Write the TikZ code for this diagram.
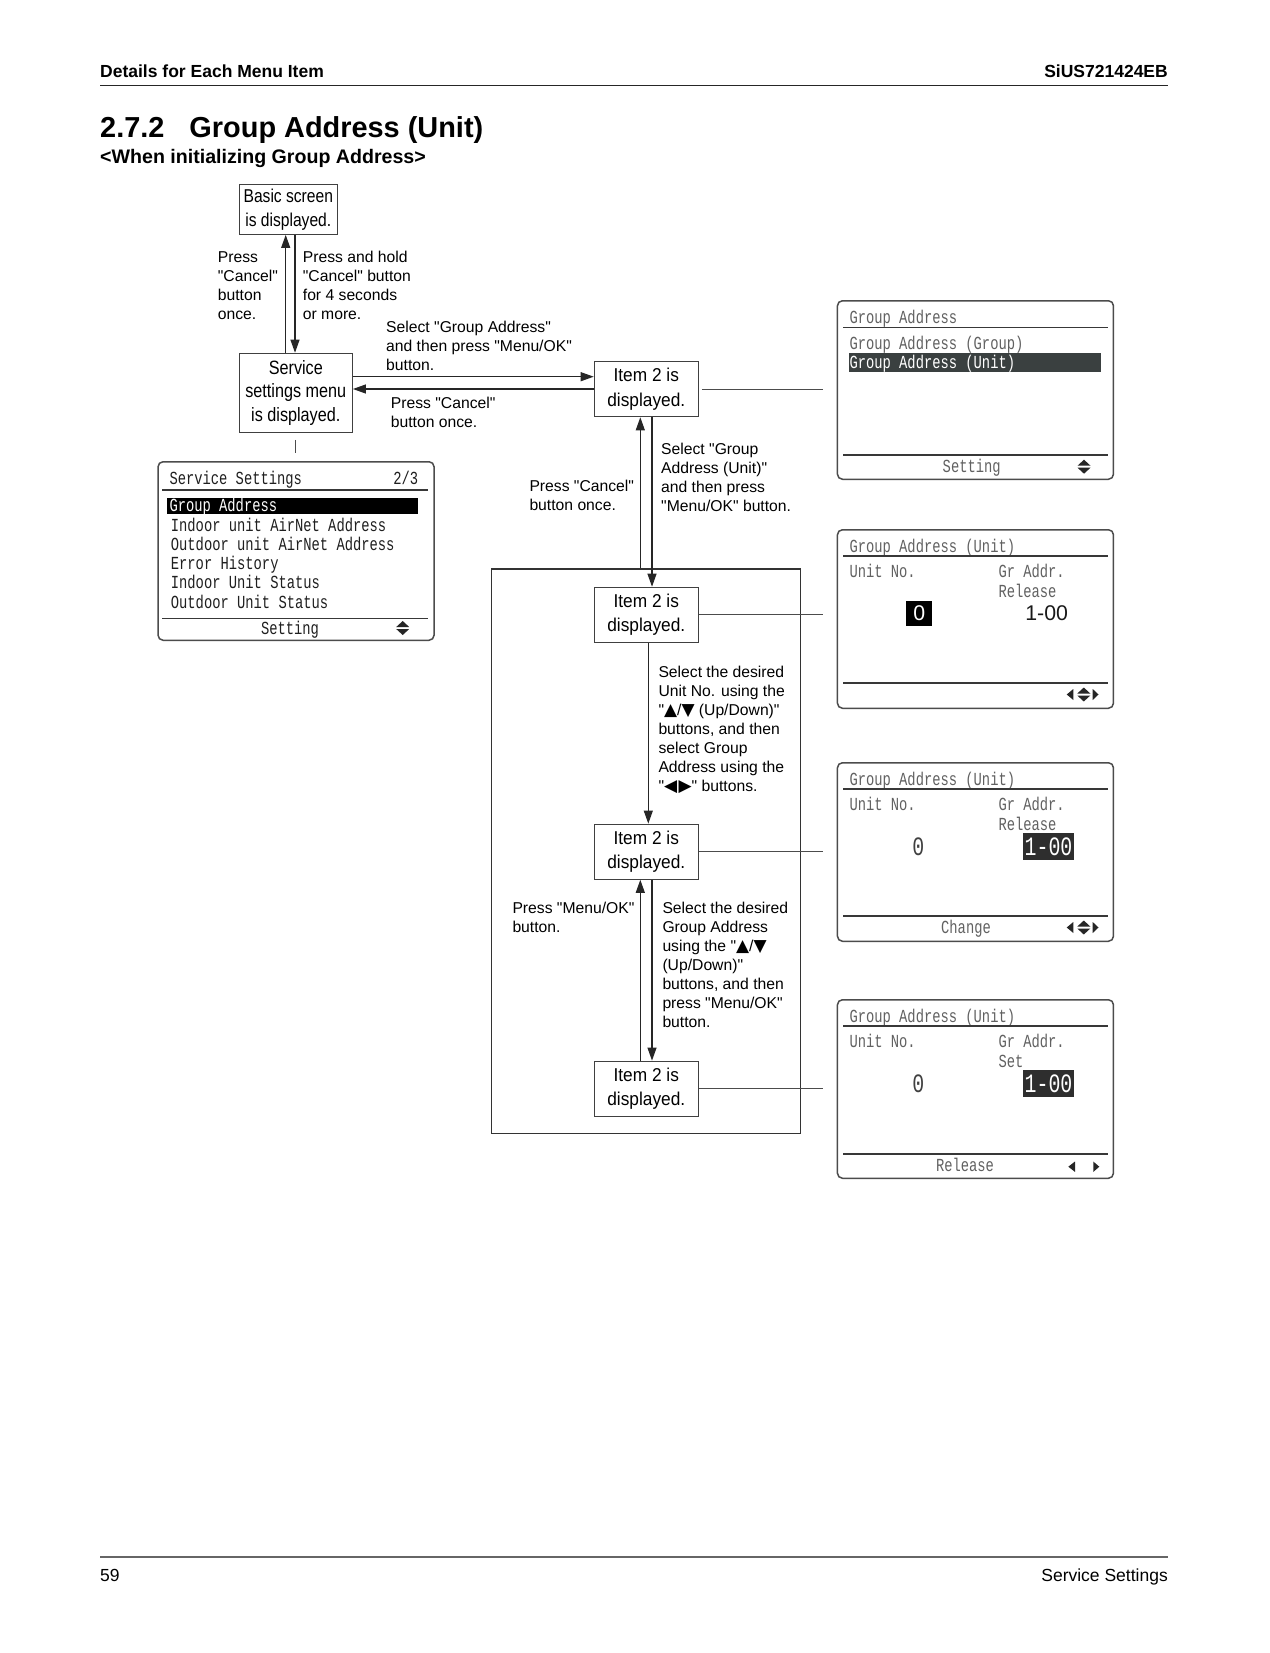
\documentclass[tikz,border=0pt]{standalone}
\usepackage{fontspec}
\setmainfont{Liberation Sans}[Ligatures=TeXOff]
\newfontfamily\condA[FakeStretch=0.84,Ligatures=TeXOff]{Liberation Sans}
\newfontfamily\condB[FakeStretch=0.93,Ligatures=TeXOff]{Liberation Sans}
\newfontfamily\lcd[FakeStretch=0.75,Ligatures=TeXOff]{Liberation Mono}
\newfontfamily\symf{DejaVu Sans}
\usetikzlibrary{arrows.meta}
\definecolor{hl}{RGB}{58,64,64}
\newcommand\tsym[1]{{\symf\fontsize{17}{12}\selectfont #1}}
\tikzset{
  box/.style={draw=black!75, line width=1.2pt, fill=white, inner sep=0pt, align=center},
  basicf/.style={font=\condA\fontsize{18.6}{24}\selectfont},
  servf/.style={font=\condA\fontsize{19.3}{23.7}\selectfont},
  itemf/.style={font=\condB\fontsize{18.6}{24.3}\selectfont, minimum width=104pt, minimum height=55pt},
  flow/.style={line width=1.1pt, draw=black!85},
  tip/.style={-{Triangle[length=13pt,width=9pt]}},
  link/.style={line width=1pt, draw=black!70},
  note/.style={anchor=base west, inner sep=0pt, align=left, font=\fontsize{15.7}{19}\selectfont},
  screen/.style={draw=black!70, line width=1.5pt, rounded corners=5pt, inner sep=0pt, anchor=north west, minimum width=276pt, minimum height=178.5pt},
  lcdt/.style={inner sep=0pt, text=black!62, font=\lcd\fontsize{18.4}{19}\selectfont},
  lcdk/.style={inner sep=0pt, text=black!88, font=\lcd\fontsize{18.4}{19}\selectfont},
  lcdbig/.style={inner sep=0pt, font=\lcd\fontsize{26.5}{27}\selectfont},
  lcdline/.style={line width=1.6pt, draw=black!78},
  icon/.style={fill=black!85, draw=none},
}
\begin{document}
\begin{tikzpicture}[x=1pt,y=-1pt]
\useasboundingbox (0,0) rectangle (1269,1653);
\fill[white] (0,0) rectangle (1269,1653);

% ---------- page header / title ----------
\node[anchor=base west, inner sep=0pt, font=\bfseries\fontsize{17.5}{20}\selectfont] (hdl) at (100,77.7) {Details for Each Menu Item};
\node[anchor=base east, inner sep=0pt, font=\bfseries\fontsize{17.5}{20}\selectfont] (hdr) at (1168,77.7) {SiUS721424EB};
\draw[line width=1.3pt, black!85] (100,85.5) -- (1168,85.5);
\node[anchor=base west, inner sep=0pt, font=\bfseries\fontsize{28.9}{32}\selectfont] (title) at (100,137.3) {2.7.2\hspace*{25pt}Group Address (Unit)};
\node[anchor=base west, inner sep=0pt, font=\bfseries\fontsize{19.6}{22}\selectfont] (subtitle) at (100,163.3) {<When initializing Group Address>};

% ---------- footer ----------
\draw[line width=1.8pt, black!60] (100,1557) -- (1168,1557);
\node[anchor=base west, inner sep=0pt, font=\fontsize{17.5}{20}\selectfont] (pg) at (100,1581) {59};
\node[anchor=base east, inner sep=0pt, font=\fontsize{17.5}{20}\selectfont] (sec) at (1168,1581) {Service Settings};

% ---------- flow boxes ----------
\node[box, basicf, minimum width=98pt, minimum height=50pt] (basic) at (288.3,209.3) {Basic screen\\is displayed.};
\node[box, servf, minimum width=113pt, minimum height=79pt] (service) at (295.8,392.8) {Service\\settings menu\\is displayed.};
\node[draw=black!80, line width=1.2pt, inner sep=0pt, minimum width=309pt, minimum height=564.3pt] (outer) at (646.2,851.15) {};
\node[box, itemf] (item1) at (646.3,389.2) {Item 2 is\\displayed.};
\node[box, itemf] (item2) at (646.3,614.8) {Item 2 is\\displayed.};
\node[box, itemf] (item3) at (646.3,851.7) {Item 2 is\\displayed.};
\node[box, itemf] (item4) at (646.3,1088.7) {Item 2 is\\displayed.};

\coordinate (xa) at (285.7,0);
\coordinate (xb) at (295,0);
\coordinate (xc) at (640.3,0);
\coordinate (xd) at (652,0);
\coordinate (xe) at (648.3,0);
\coordinate (ya) at (0,376.7);
\coordinate (yb) at (0,389);
\coordinate (lend) at (823,0);

% ---------- notes (anchor = baseline of last line) ----------
\node[note] (n1) at (217.7,319.3) {Press\\"Cancel"\\button\\once.};
\node[note] (n2) at (302.7,319.3) {Press and hold\\"Cancel" button\\for 4 seconds\\or more.};
\node[note] (n3) at (386,370.3) {Select "Group Address"\\and then press "Menu/OK"\\button.};
\node[note] (n4) at (390.7,427.3) {Press "Cancel"\\button once.};
\node[note] (n5) at (529.3,510.6) {Press "Cancel"\\button once.};
\node[note] (n6) at (661,511.6) {Select "Group\\Address (Unit)"\\and then press\\"Menu/OK" button.};
\node[note] (n7) at (658.3,791.3) {Select the desired\\Unit No. using the\\"\tsym{▲}/\tsym{▼} (Up/Down)"\\buttons, and then\\select Group\\Address using the\\"\tsym{◀}\kern1.5pt\tsym{▶}" buttons.};
\node[note] (n8) at (512.3,932.3) {Press "Menu/OK"\\button.};
\node[note] (n9) at (662.3,1027.3) {Select the desired\\Group Address\\using the "\tsym{▲}/\tsym{▼}\\(Up/Down)"\\buttons, and then\\press "Menu/OK"\\button.};

% ---------- screens ----------
% S0 service settings
\node[screen] (s0) at (157.3,461) {};
\node[lcdk, anchor=base west] (s0h) at (169.3,484.5) {Service Settings};
\node[lcdk, anchor=base east] (s0p) at (418.3,484.5) {2/3};
\draw[lcdline] (162,490) -- (428,490);
\fill[black] (166.7,497.7) rectangle (418.3,514.3);
\node[lcdk, text=white!72, anchor=base west] (s0i0) at (169.3,511) {Group Address};
\node[lcdk, anchor=base west] (s0i1) at (170.7,531) {Indoor unit AirNet Address};
\node[lcdk, anchor=base west] (s0i2) at (170.7,550.3) {Outdoor unit AirNet Address};
\node[lcdk, anchor=base west] (s0i3) at (170.7,569.6) {Error History};
\node[lcdk, anchor=base west] (s0i4) at (170.7,588.9) {Indoor Unit Status};
\node[lcdk, anchor=base west] (s0i5) at (170.7,608.2) {Outdoor Unit Status};
\draw[lcdline] (162,618.3) -- (428,618.3);
\node[lcdk, anchor=base] (s0b) at (290,634) {Setting};
\fill[icon] (396.2,627) -- (409.2,627) -- (402.7,621) -- cycle;
\fill[icon] (396.2,629) -- (409.2,629) -- (402.7,635) -- cycle;

% S1 Group Address
\begin{scope}[shift={(0,300)}]
\node[screen] (s1) at (836.7,0) {};
\node[lcdt, anchor=base west] (s1h) at (849.3,23.7) {Group Address};
\draw[lcdline] (843.3,27.5) -- (1107.7,27.5);
\node[lcdt, anchor=base west] (s1i1) at (849.3,49.3) {Group Address (Group)};
\fill[hl] (849,53.3) rectangle (1100.7,71.7);
\node[lcdt, text=white!88, anchor=base west] (s1i2) at (849.3,68.7) {Group Address (Unit)};
\draw[lcdline] (843.3,155) -- (1107.7,155);
\node[lcdt, anchor=base] (s1b) at (971.7,172.7) {Setting};
\fill[icon] (1077.5,165.7) -- (1090.5,165.7) -- (1084,159.7) -- cycle;
\fill[icon] (1077.5,167.7) -- (1090.5,167.7) -- (1084,173.7) -- cycle;
\end{scope}

% S2
\begin{scope}[shift={(0,529)}]
\node[screen] (s2) at (836.7,0) {};
\node[lcdt, anchor=base west] (s2h) at (849.3,23) {Group Address (Unit)};
\draw[lcdline] (843.3,27) -- (1107.7,27);
\node[lcdt, anchor=base west] (s2u) at (849.3,48.7) {Unit No.};
\node[lcdt, anchor=base west] (s2g) at (998.3,48.7) {Gr Addr.};
\node[lcdt, anchor=base west] (s2r) at (998.3,68) {Release};
\fill[black] (906,71.7) rectangle (932.3,97);
\node[inner sep=0pt, text=white, font=\fontsize{21.3}{22}\selectfont] (s2v) at (919.2,84.3) {0};
\node[inner sep=0pt, text=black!90, font=\fontsize{21.3}{22}\selectfont] (s2a) at (1046.7,84.3) {1-00};
\draw[lcdline] (843.3,154) -- (1107.7,154);
\fill[icon] (1077.3,164.5) -- (1090.3,164.5) -- (1083.8,158.5) -- cycle;
\fill[icon] (1077.3,166.5) -- (1090.3,166.5) -- (1083.8,172.5) -- cycle;
\fill[icon] (1066.7,165.5) -- (1073.3,160) -- (1073.3,171) -- cycle;
\fill[icon] (1092.7,160) -- (1098.5,165.5) -- (1092.7,171) -- cycle;
\end{scope}

% S3
\begin{scope}[shift={(0,762)}]
\node[screen] (s3) at (836.7,0) {};
\node[lcdt, anchor=base west] (s3h) at (849.3,23) {Group Address (Unit)};
\draw[lcdline] (843.3,27) -- (1107.7,27);
\node[lcdt, anchor=base west] (s3u) at (849.3,48.7) {Unit No.};
\node[lcdt, anchor=base west] (s3g) at (998.3,48.7) {Gr Addr.};
\node[lcdt, anchor=base west] (s3r) at (998.3,68) {Release};
\node[lcdbig, text=black!75] (s3v) at (918.3,84.3) {0};
\fill[black!82] (1022.7,71.3) rectangle (1074.3,97.7);
\node[lcdbig, text=white] (s3a) at (1048.5,84.5) {1-00};
\draw[lcdline] (843.3,154) -- (1107.7,154);
\node[lcdt, anchor=base] (s3b) at (966,171.5) {Change};
\fill[icon] (1077.3,164.5) -- (1090.3,164.5) -- (1083.8,158.5) -- cycle;
\fill[icon] (1077.3,166.5) -- (1090.3,166.5) -- (1083.8,172.5) -- cycle;
\fill[icon] (1066.7,165.5) -- (1073.3,160) -- (1073.3,171) -- cycle;
\fill[icon] (1092.7,160) -- (1098.5,165.5) -- (1092.7,171) -- cycle;
\end{scope}

% S4
\begin{scope}[shift={(0,999)}]
\node[screen] (s4) at (836.7,0) {};
\node[lcdt, anchor=base west] (s4h) at (849.3,23) {Group Address (Unit)};
\draw[lcdline] (843.3,27) -- (1107.7,27);
\node[lcdt, anchor=base west] (s4u) at (849.3,48.7) {Unit No.};
\node[lcdt, anchor=base west] (s4g) at (998.3,48.7) {Gr Addr.};
\node[lcdt, anchor=base west] (s4r) at (998.3,68) {Set};
\node[lcdbig, text=black!75] (s4v) at (918.3,84.3) {0};
\fill[black!82] (1022.7,71.3) rectangle (1074.3,97.7);
\node[lcdbig, text=white] (s4a) at (1048.5,84.5) {1-00};
\draw[lcdline] (843.3,154.7) -- (1107.7,154.7);
\node[lcdt, anchor=base] (s4b) at (965,172.5) {Release};
\fill[icon] (1068.3,167.7) -- (1075,162.5) -- (1075,172.9) -- cycle;
\fill[icon] (1093.3,162.5) -- (1099.3,167.7) -- (1093.3,172.9) -- cycle;
\end{scope}

% ---------- connectors ----------
\draw[flow,tip] (service.north -| xa) -- (basic.south -| xa);
\draw[flow,tip] (basic.south -| xb) -- (service.north -| xb);
\draw[flow,tip] (service.east |- ya) -- (item1.west |- ya);
\draw[flow,tip] (item1.west |- yb) -- (service.east |- yb);
\draw[link] ([yshift=-7pt]service.south -| xb) -- ([yshift=8pt]s0.north -| xb);
\draw[flow,tip] (outer.north -| xc) -- (item1.south -| xc);
\draw[flow,tip] (item1.south -| xd) -- (item2.north -| xd);
\draw[flow,tip] (item2.south -| xe) -- (item3.north -| xe);
\draw[flow,tip] (item4.north -| xc) -- (item3.south -| xc);
\draw[flow,tip] (item3.south -| xd) -- (item4.north -| xd);
\draw[link] ([xshift=3pt]item1.east) -- (item1.east -| lend);
\draw[link] (item2.east) -- (item2.east -| lend);
\draw[link] (item3.east) -- (item3.east -| lend);
\draw[link] (item4.east) -- (item4.east -| lend);
\end{tikzpicture}
\end{document}
